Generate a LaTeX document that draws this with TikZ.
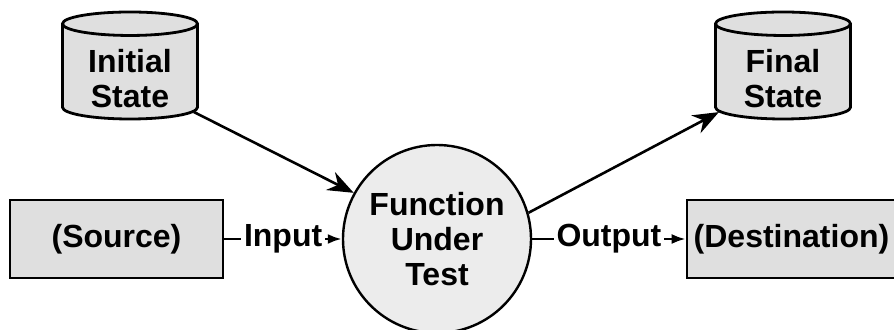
\documentclass[tikz,border=0pt]{standalone}
\usepackage{fontspec}
\setmainfont{Liberation Sans}
\usetikzlibrary{arrows.meta, positioning, shapes.geometric}

\begin{document}
\begin{tikzpicture}[
    x=0.5pt, y=-0.5pt,
    >=Latex, % Set default arrow tip style
    every node/.style={font=\fontsize{16}{17.5}\selectfont\bfseries},
    store/.style={cylinder, shape border rotate=90, aspect=0.3, draw, line width=1.4pt,
        fill=gray!25, minimum width=67.5pt, minimum height=53.5pt, inner sep=0pt,
        anchor=shape center},
    storetext/.style={align=center, yshift=-3.5pt},
    endpoint/.style={draw, line width=1.4pt, fill=gray!25, minimum height=39pt},
    func/.style={circle, draw, line width=1.2pt, fill=gray!15, minimum size=94pt,
        align=center, inner sep=0pt},
    flow/.style={line width=1.3pt},
    lbl/.style={fill=white, inner sep=1.5pt}
]

    % Fix the frame
    \useasboundingbox (0,0) rectangle (894,330);

    % Data stores (text sits in the body, below the lid)
    \node[store, label={[storetext]center:{Initial\\State}}] (ini) at (130,65.5) {\phantom{State}};
    \node[store, label={[storetext]center:{Final\\State}}] (fin) at (783,65.5) {\phantom{State}};

    % Function in the middle
    \node[func] (fut) at (437,239) {Function\\Under\\Test};

    % Source and destination
    \node[endpoint, minimum width=106.5pt] (src) at (116.5,239) {(Source)};
    \node[endpoint, minimum width=101.5pt] (dst) at (791.5,239) {(Destination)};

    % State arrows
    \draw[flow, -{Stealth[length=13pt, width=10pt]}] (ini.-32) -- (fut.151);
    \draw[flow, -{Stealth[length=13pt, width=10pt]}] (fut.16) -- (fin.212);

    % Data flow
    \draw[flow, -{Latex[length=7pt, width=5pt]}] (src) -- node[lbl] {Input} (fut);
    \draw[flow, -{Latex[length=7pt, width=5pt]}] (fut) -- node[lbl] {Output} (dst);

\end{tikzpicture}
\end{document}
